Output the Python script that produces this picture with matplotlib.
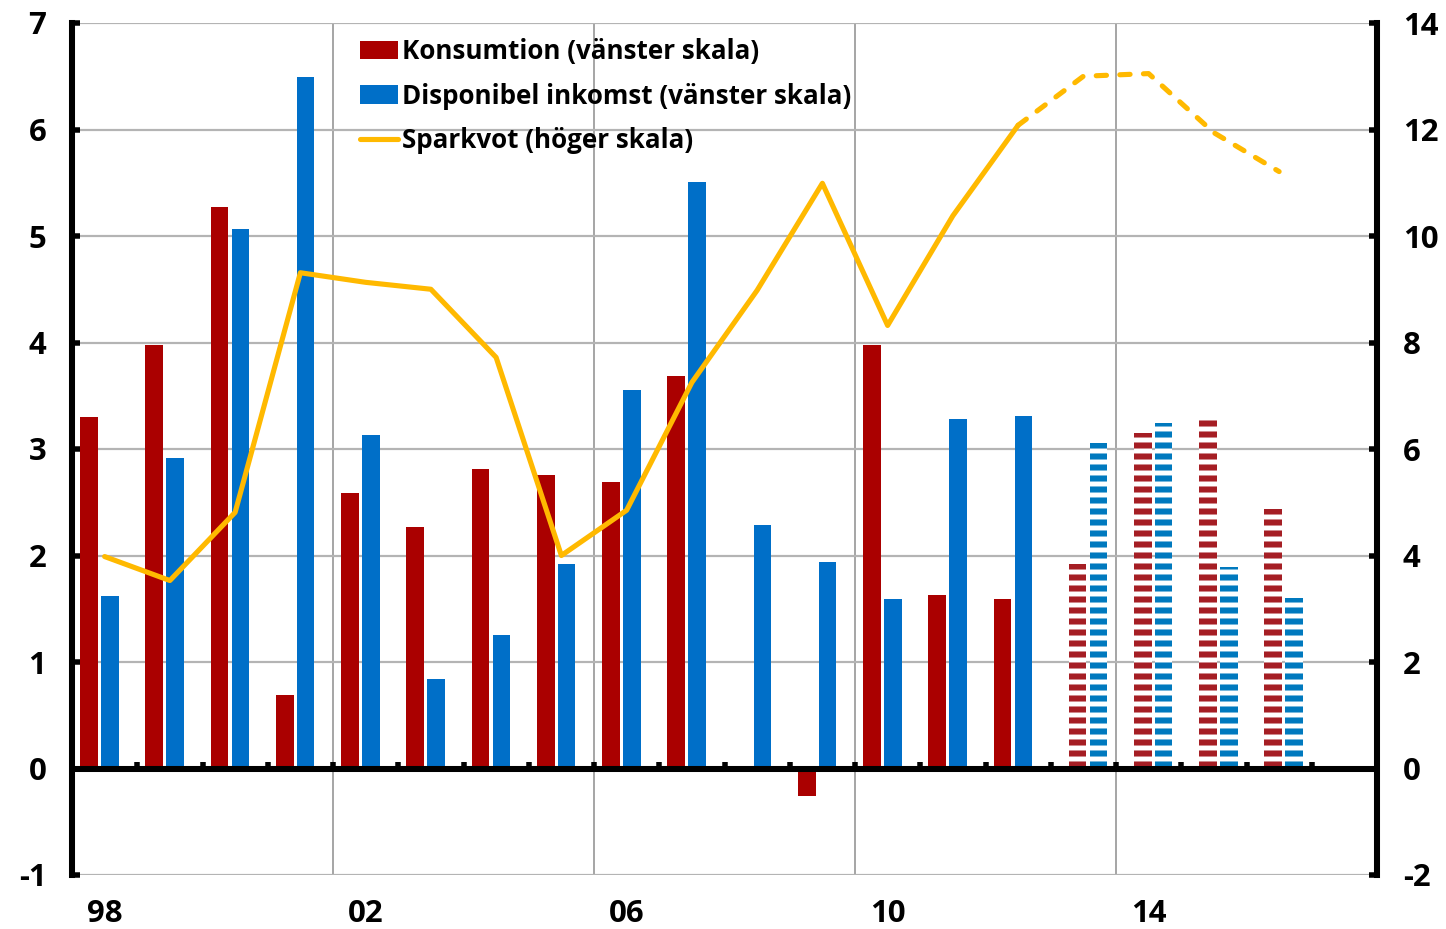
import numpy as np
import matplotlib.pyplot as plt

plt.rcParams['font.family'] = ['Open Sans', 'DejaVu Sans']
plt.rcParams['font.weight'] = 'bold'
plt.rcParams['axes.unicode_minus'] = False
plt.rcParams['hatch.linewidth'] = 3.3

# Data (percent change / percent of disposable income)
years = list(range(1998, 2018))
konsumtion = [3.30, 3.98, 5.27, 0.69, 2.59, 2.27, 2.81, 2.76, 2.69, 3.69,
              np.nan, -0.26, 3.98, 1.63, 1.59]
inkomst = [1.62, 2.92, 5.07, 6.49, 3.13, 0.84, 1.25, 1.92, 3.55, 5.51,
           2.29, 1.94, 1.59, 3.28, 3.31]
prognos_years = [2013, 2014, 2015, 2016]
konsumtion_prognos = [1.92, 3.15, 3.27, 2.44]
inkomst_prognos = [3.06, 3.24, 1.89, 1.60]
sparkvot = [3.98, 3.53, 4.81, 9.31, 9.13, 9.00, 7.72, 4.00, 4.85, 7.25,
            8.98, 10.99, 8.32, 10.38, 12.08, 13.00, 13.05, 11.94, 11.21]
tick_labels = ['98', '02', '06', '10', '14']

red = '#AA0000'
blue = '#006FC8'
red_f = '#A51E24'
blue_f = '#0079BE'
gold = '#FFB900'

dpi = 132
fig = plt.figure(figsize=(1446 / dpi, 929 / dpi), dpi=dpi)
ax = fig.add_axes([72 / 1446, 1 - 875 / 929, 1305 / 1446, 852 / 929])

x = np.arange(len(konsumtion))
xf = np.array(prognos_years) - 1998
w = 0.27

ax.bar(x - 0.24, konsumtion, w, color=red, label='Konsumtion (vänster skala)', zorder=3)
ax.bar(x + 0.08, inkomst, w, color=blue, label='Disponibel inkomst (vänster skala)', zorder=3)
ax.bar(xf - 0.09, konsumtion_prognos, w, facecolor='white', edgecolor=red_f,
       hatch='--', linewidth=0, zorder=3)
ax.bar(xf + 0.23, inkomst_prognos, w, facecolor='white', edgecolor=blue_f,
       hatch='--', linewidth=0, zorder=3)

ax.set_xlim(-0.5, len(years) - 0.5)
ax.set_ylim(-1, 7)
ax.set_yticks(range(-1, 8))
ax.grid(axis='y', color='#B4B4B4', lw=1.2, zorder=0)
for b in [3.5, 7.5, 11.5, 15.5]:
    ax.axvline(b, color='#A0A0A0', lw=1.0, zorder=0)
ax.axhline(0, color='black', lw=3.3, zorder=4)

ax.set_xticks([0, 4, 8, 12, 16])
ax.set_xticklabels(tick_labels)
ax.tick_params(axis='x', length=0, pad=13, labelsize=17)
ax.tick_params(axis='y', direction='in', length=4.5, width=3, pad=14, labelsize=17)
for s in ['top', 'bottom']:
    ax.spines[s].set_visible(False)
ax.spines['left'].set_linewidth(3.3)
ax.spines['right'].set_visible(False)

# small ticks on the zero line at category boundaries
sec = ax.secondary_xaxis(0.125)
sec.spines['bottom'].set_visible(False)
sec.set_xticks(np.arange(0.5, len(years) - 0.5, 1))
sec.tick_params(direction='in', length=4, width=3, labelbottom=False)

ax2 = ax.twinx()
ax2.set_ylim(-2, 14)
ax2.set_yticks(range(-2, 15, 2))
ax2.tick_params(axis='y', direction='in', length=4.5, width=3, pad=14, labelsize=17)
for s in ['top', 'bottom', 'left']:
    ax2.spines[s].set_visible(False)
ax2.spines['right'].set_linewidth(3.3)

xs = np.arange(len(sparkvot))
ax2.plot(xs[:15], sparkvot[:15], color=gold, lw=2.8, solid_joinstyle='round',
         solid_capstyle='round', label='Sparkvot (höger skala)', zorder=5)
ax2.plot(xs[14:], sparkvot[14:], color=gold, lw=2.8, dashes=(2, 2.6),
         dash_capstyle='round', zorder=5)

h1, l1 = ax.get_legend_handles_labels()
h2, l2 = ax2.get_legend_handles_labels()
ax2.legend(h1 + h2, l1 + l2, loc='upper left', bbox_to_anchor=(0.2207, 0.982),
           frameon=False, fontsize=14.2, handlelength=1.45, handletextpad=0.15,
           labelspacing=0.66, borderpad=0, borderaxespad=0)

fig.savefig('out.png', dpi=dpi)
